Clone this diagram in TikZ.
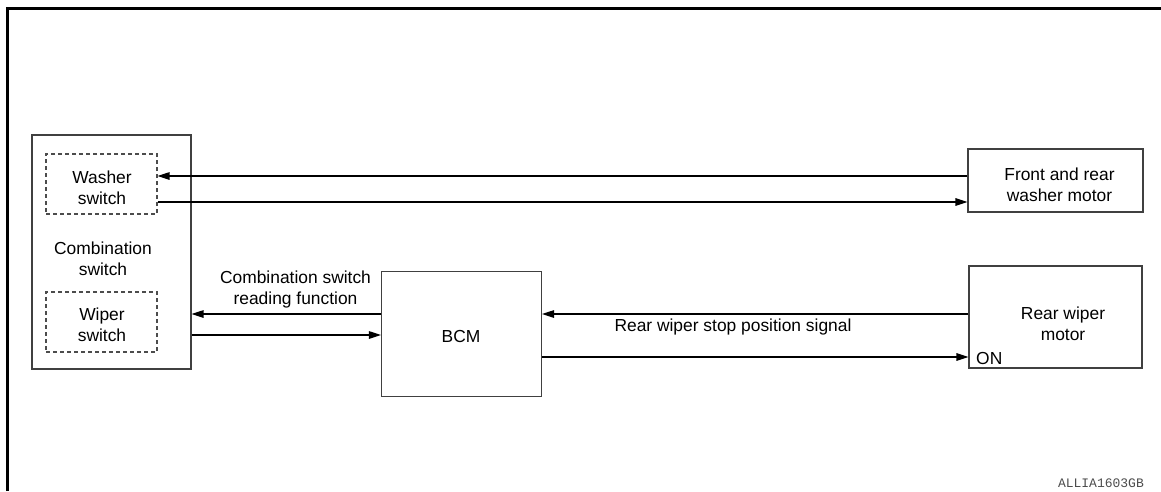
\documentclass[tikz,border=0pt]{standalone}
\usepackage{fontspec}
\setmainfont{Liberation Sans}
\setmonofont{Liberation Mono}
\usetikzlibrary{arrows.meta}
\begin{document}
\begin{tikzpicture}[x=1pt,y=-1pt,
  box/.style={draw=black!75,line width=1.1pt,minimum width=#1,inner sep=0pt},
  dbox/.style={draw=black!70,line width=1.1pt,dash pattern=on 4pt off 3pt,inner sep=0pt},
  lbl/.style={align=center,inner sep=0pt,font=\fontsize{17.4}{21}\selectfont},
  sig/.style={line width=1.3pt,-{Triangle[length=12pt,width=7.5pt]}}]
\useasboundingbox (0,0) rectangle (1161,491);
% outer frame (top and left edges only)
\draw[line width=3pt] (7.5,491) -- (7.5,8.5) -- (1161,8.5);

% blocks
\node[box=159pt,minimum height=234pt] (comb) at (111.5,252) {};
\node[dbox,minimum width=111pt,minimum height=60pt] (wash) at (101.5,184) {};
\node[dbox,minimum width=111pt,minimum height=60pt] (wip) at (101.5,322) {};
\node[box=175pt,minimum height=63pt] (fr) at (1055.5,180.5) {};
\node[box=160pt,minimum height=125pt] (bcm) at (461.5,334) {};
\node[box=173pt,minimum height=102pt] (rw) at (1055.5,317) {};

% block texts
\node[lbl] (washt) at (102,187.5) {Washer\\switch};
\node[lbl] (wipt) at (102,325) {Wiper\\switch};
\node[lbl] (combt) at (103,259) {Combination\\switch};
\node[lbl] (frt) at (1059.5,185) {Front and rear\\washer motor};
\node[lbl] (bcmt) at (461,337) {BCM};
\node[lbl] (rwt) at (1063,324) {Rear wiper\\motor};
\node[lbl,anchor=west] (on) at (976,358.5) {ON};

% signal lines
\draw[sig] (fr.west |- 0,176) -- (wash.east |- 0,176);
\draw[sig] (wash.east |- 0,202) -- (fr.west |- 0,202);
\draw[sig] (bcm.west |- 0,314) -- (comb.east |- 0,314);
\draw[sig] (comb.east |- 0,335) -- (bcm.west |- 0,335);
\draw[sig] (rw.west |- 0,314) -- (bcm.east |- 0,314);
\draw[sig] (bcm.east |- 0,357) -- (rw.west |- 0,357);

% line labels
\node[lbl] (readt) at (295.5,289) {Combination switch\\reading function};
\node[lbl] (stopt) at (733,326.5) {Rear wiper stop position signal};

% drawing code
\node[anchor=east,inner sep=0pt,text=black!70,font=\ttfamily\fontsize{13}{13}\selectfont] (code) at (1144,483) {ALLIA1603GB};
\end{tikzpicture}
\end{document}
